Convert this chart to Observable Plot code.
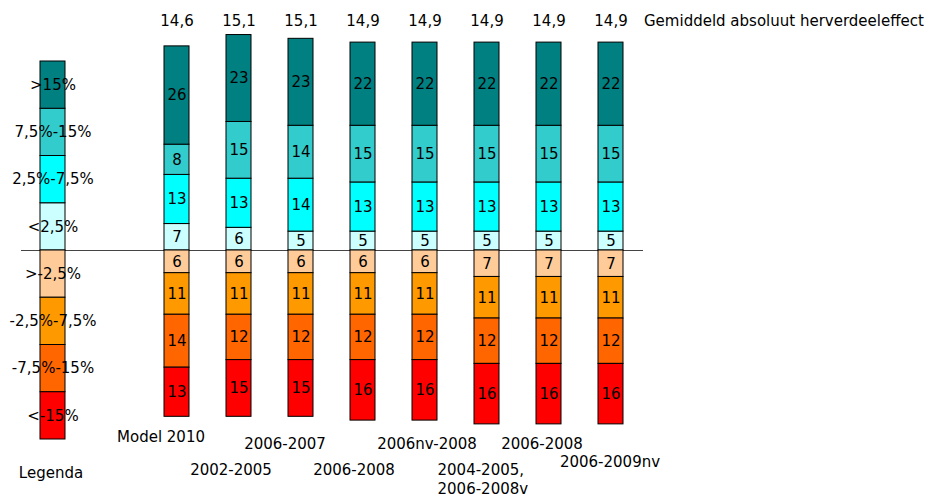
<!DOCTYPE html>
<html><head><meta charset="utf-8">
<script src="https://cdn.jsdelivr.net/npm/d3@7"></script>
<script src="https://cdn.jsdelivr.net/npm/@observablehq/plot@0.6"></script>
<style>html,body{margin:0;padding:0;background:#fff;} svg{display:block}</style>
</head><body><div id="chart"></div>
<script>
// ---- data ----
const categories = ["Model 2010", "2002-2005", "2006-2007", "2006-2008", "2006nv-2008", "2004-2005,\n2006-2008v", "2006-2008", "2006-2009nv"];
const averages = [14.6, 15.1, 15.1, 14.9, 14.9, 14.9, 14.9, 14.9];
const avgTitle = "Gemiddeld absoluut herverdeeleffect";
const legendTitle = "Legenda";

const classes = [">15%", "7,5%-15%", "2,5%-7,5%", "<2,5%", ">-2,5%", "-2,5%-7,5%", "-7,5%-15%", "<-15%"];
const classColors = ["#008080", "#33CCCC", "#00FFFF", "#CCFFFF", "#FFCC99", "#FF9900", "#FF6600", "#FF0000"];

// shares (%) per class, one value per bar
const gt15   = [26, 23, 23, 22, 22, 22, 22, 22];
const p7to15 = [8, 15, 14, 15, 15, 15, 15, 15];
const p2to7  = [13, 13, 14, 13, 13, 13, 13, 13];
const lt2    = [7, 6, 5, 5, 5, 5, 5, 5];
const gtm2   = [6, 6, 6, 6, 6, 7, 7, 7];
const m2to7  = [11, 11, 11, 11, 11, 11, 11, 11];
const m7to15 = [14, 12, 12, 12, 12, 12, 12, 12];
const ltm15  = [13, 15, 15, 16, 16, 16, 16, 16];
const legendShare = 12.5;

// ---- build table ----
const stackOrder = ["<2,5%", "2,5%-7,5%", "7,5%-15%", ">15%", ">-2,5%", "-2,5%-7,5%", "-7,5%-15%", "<-15%"];
const stackSeries = [lt2, p2to7, p7to15, gt15, gtm2, m2to7, m7to15, ltm15];
const sign = [1, 1, 1, 1, -1, -1, -1, -1];
const LEGEND = -2, SPACER = -1;
const rows = [];
stackSeries.forEach((vals, s) => vals.forEach((v, i) => rows.push({bar: i, cls: stackOrder[s], value: sign[s] * v, label: String(v)})));
const legendRows = stackOrder.map((c, s) => ({bar: LEGEND, cls: c, value: sign[s] * legendShare, label: c}));
const fmt = d => d3.format(".1f")(d).replace(".", ",");

// ---- layout (pixels) ----
const pxPerUnit = 3.78, baseY = 250, H = 497, W = 940;
const labelLayout = [
  {dx: -16, dy: 435}, {dx: -8, dy: 468}, {dx: -16, dy: 442}, {dx: -9, dy: 468},
  {dx: 2, dy: 442}, {dx: -49.5, dy: 478, anchor: "start"}, {dx: -7, dy: 442}, {dx: -1, dy: 460}
];

const xLabelMarks = categories.map((c, i) => Plot.text([c], {
  x: () => i, frameAnchor: "top", dy: labelLayout[i].dy, dx: labelLayout[i].dx,
  textAnchor: labelLayout[i].anchor || "middle", lineAnchor: "middle", lineHeight: 1.3,
  fill: "black", text: d => d
}));

const chart = Plot.plot({
  width: W, height: H,
  marginTop: 0, marginBottom: 0, marginLeft: 21, marginRight: W - 643,
  style: {fontFamily: "'DejaVu Sans', Verdana, sans-serif", fontSize: "15px", background: "white", color: "black"},
  x: {type: "band", domain: [LEGEND, SPACER, ...d3.range(categories.length)], range: [2.06, 661.7], padding: 0.5983, align: 0.5, axis: null},
  y: {domain: [-(H - baseY) / pxPerUnit, baseY / pxPerUnit], range: [H, 0], axis: null},
  color: {domain: classes, range: classColors},
  marks: [
    Plot.ruleY([0], {stroke: "#444", strokeWidth: 1}),
    Plot.barY(rows.concat(legendRows), Plot.stackY({x: "bar", y: "value", fill: "cls", stroke: "black", strokeWidth: 1})),
    Plot.text(rows, Plot.stackY({x: "bar", y: "value", text: "label", fill: "black", fontSize: 15})),
    Plot.text(legendRows, Plot.stackY({x: "bar", y: "value", text: "label", fill: "black", fontSize: 15})),
    Plot.text(averages, {x: (d, i) => i, frameAnchor: "top", dy: 15, text: fmt, fill: "black", fontSize: 15}),
    Plot.text([avgTitle], {x: () => categories.length - 1, frameAnchor: "top", dy: 15, dx: 33, textAnchor: "start", text: d => d, fill: "black", fontSize: 15}),
    Plot.text([legendTitle], {x: () => LEGEND, frameAnchor: "top", dy: 467, dx: -2, text: d => d, fill: "black", fontSize: 15}),
    ...xLabelMarks
  ]
});
document.getElementById("chart").append(chart);
</script>
</body></html>
